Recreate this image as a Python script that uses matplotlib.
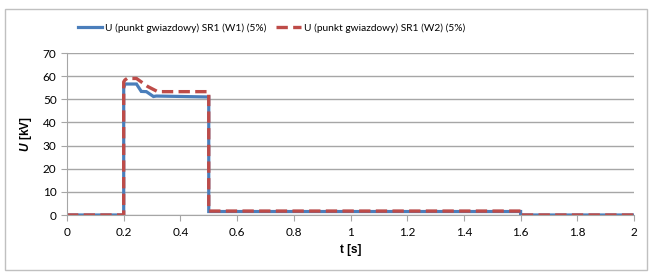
import numpy as np
import matplotlib.pyplot as plt
from matplotlib.patches import Rectangle

# ==========================================================
# DATA
# ==========================================================
t_w1 = [0.0, 0.2, 0.2, 0.205, 0.245, 0.262, 0.28, 0.305, 0.315, 0.5, 0.5, 1.6, 1.6, 2.0]
u_w1 = [0.0, 0.0, 55.0, 56.6, 56.6, 53.4, 53.3, 51.2, 51.4, 51.0, 1.5, 1.5, 0.0, 0.0]

t_w2 = [0.0, 0.2, 0.2, 0.204, 0.212, 0.245, 0.285, 0.32, 0.5, 0.5, 1.6, 1.6, 2.0]
u_w2 = [0.0, 0.0, 57.5, 58.3, 59.0, 59.0, 55.5, 53.3, 53.3, 1.7, 1.7, 0.0, 0.0]

label_w1 = "U (punkt gwiazdowy) SR1 (W1) (5%)"
label_w2 = "U (punkt gwiazdowy) SR1 (W2) (5%)"

x_ticks = [0, 0.2, 0.4, 0.6, 0.8, 1, 1.2, 1.4, 1.6, 1.8, 2]
x_labels = ["0", "0.2", "0.4", "0.6", "0.8", "1", "1.2", "1.4", "1.6", "1.8", "2"]
y_ticks = [0, 10, 20, 30, 40, 50, 60, 70]

# ==========================================================
# FIGURE
# ==========================================================
plt.rcParams['font.family'] = ['Lato', 'DejaVu Sans']
plt.rcParams['mathtext.fontset'] = 'custom'
plt.rcParams['mathtext.bfit'] = 'Liberation Sans:bold:italic'
plt.rcParams['mathtext.bf'] = 'Liberation Sans:bold'

W, H = 649, 272
fig = plt.figure(figsize=(W / 100, H / 100), dpi=100)

# outer chart frame
fig.patches.append(Rectangle((5 / W, 1 - 270 / H), 642 / W, 261 / H,
                             transform=fig.transFigure, fill=False,
                             edgecolor="#c0c0c0", linewidth=1.0))

ax = fig.add_axes([67 / W, 1 - 215 / H, 567 / W, 162 / H])

ax.plot(t_w1, u_w1, color="#4a7ebb", linewidth=2.3, solid_joinstyle="miter",
        label=label_w1)
ax.plot(t_w2, u_w2, color="#be4b48", linewidth=2.4, linestyle=(0, (3.4, 1.6)),
        label=label_w2)

ax.set_xlim(0, 2)
ax.set_ylim(0, 70)
ax.set_xticks(x_ticks)
ax.set_xticklabels(x_labels)
ax.set_yticks(y_ticks)

ax.grid(axis="y", color="#a6a6a6", linewidth=1.0)
ax.set_axisbelow(True)
for s in ["top", "right"]:
    ax.spines[s].set_visible(False)
ax.spines["left"].set_color("#a6a6a6")
ax.spines["bottom"].set_color("#a6a6a6")
ax.tick_params(axis="both", colors="#a6a6a6", length=4, labelsize=8.5,
               labelcolor="#000000")
ax.tick_params(axis="x", pad=5)

ax.set_xlabel("t [s]", fontsize=8.5, family="Liberation Sans",
              fontweight="bold", labelpad=4)
ax.set_ylabel(r"$\mathbfit{U}\ \mathbf{[kV]}$", fontsize=8.5, labelpad=6)

# legend on top
leg = fig.legend(loc="center", bbox_to_anchor=(0.418, 1 - 28 / H), ncol=2,
                 frameon=False, fontsize=7.3, handlelength=2.4,
                 columnspacing=1.0, handletextpad=0.3)

fig.savefig("out.png", dpi=100)
